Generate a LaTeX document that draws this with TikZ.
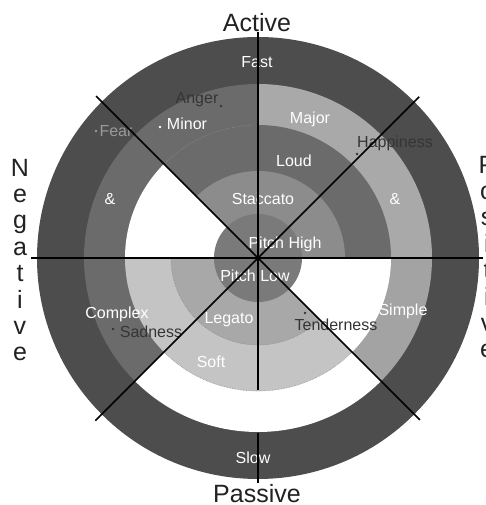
\documentclass[tikz,border=0pt]{standalone}
\usepackage{fontspec}
\setmainfont{Liberation Sans}
\usepackage{tikz}
\usetikzlibrary{positioning}
\definecolor{ringdark}{HTML}{4D4D4D}
\definecolor{ringmid}{HTML}{6B6B6B}
\definecolor{ringstac}{HTML}{8C8C8C}
\definecolor{ringcore}{HTML}{7A7A7A}
\definecolor{ringmajor}{HTML}{A9A9A9}
\definecolor{ringsimple}{HTML}{A3A3A3}
\definecolor{ringlegato}{HTML}{A8A8A8}
\definecolor{ringsoft}{HTML}{C4C4C4}
\definecolor{emodark}{HTML}{353535}
\definecolor{emofear}{HTML}{9A9A9A}
\definecolor{axisblack}{HTML}{222222}
\newcommand{\ringsector}[4]{\fill[#1] (0,0) -- (#2:#4) arc[start angle=#2, end angle=#3, radius=#4] -- cycle;}

\begin{document}
\begin{tikzpicture}[x=1pt, y=1pt,
    whitelabel/.style={text=white, font=\fontsize{16}{16}\selectfont, anchor=base, inner sep=0pt},
    emotion/.style={text=emodark, font=\fontsize{16}{16}\selectfont, anchor=base, inner sep=0pt},
    emodot/.style={circle, fill=emodark, inner sep=0pt, minimum size=2.6pt},
    axisword/.style={text=axisblack, font=\fontsize{25}{26.4}\selectfont, inner sep=0pt},
    axisline/.style={draw=black, line width=1.6pt},
    seam/.style={densely dotted, line width=0.6pt}
    ]
        \useasboundingbox (-258,-247) rectangle (228,258);
        \fill[white] (-258,-247) rectangle (228,258);

        %Rings
        \fill[ringdark] (0,0) circle[radius=221pt];
        \ringsector{ringmajor}{0}{90}{174pt}
        \ringsector{ringmid}{90}{180}{174pt}
        \ringsector{ringmid}{180}{225}{174pt}
        \ringsector{white}{225}{315}{174pt}
        \ringsector{ringsimple}{315}{360}{174pt}
        \ringsector{ringmid}{0}{135}{133pt}
        \ringsector{white}{135}{180}{133pt}
        \ringsector{ringsoft}{180}{315}{133pt}
        \ringsector{white}{315}{360}{133pt}
        \ringsector{ringstac}{0}{135}{87pt}
        \ringsector{ringlegato}{180}{315}{87pt}
        \fill[ringcore] (0,0) circle[radius=44pt];

        %Seams
        \draw[seam, draw=ringstac] (92:133pt) arc[start angle=92, end angle=134, radius=133pt];
        \draw[seam, draw=ringstac] (180:87pt) arc[start angle=180, end angle=315, radius=87pt];
        \draw[seam, draw=ringstac] (225:133pt) arc[start angle=225, end angle=315, radius=133pt];

        %Nodes
        \node[axisword, anchor=base] (active)  at (-1,226)   {Active};
        \node[axisword, anchor=base] (passive) at (-1,-244)  {Passive};
        \node[axisword, align=center] (negative) at (-238,-2) {N\\e\\g\\a\\t\\i\\v\\e};
        \node[axisword, align=center] (positive) at (229,1)  {P\\o\\s\\i\\t\\i\\v\\e};

        \node[whitelabel] (fast)      at (-1,190)   {Fast};
        \node[whitelabel] (minor)     at (-71,128)  {Minor};
        \node[whitelabel] (major)     at (52,134)   {Major};
        \node[whitelabel] (loud)      at (36,91)    {Loud};
        \node[whitelabel] (ampleft)   at (-148,53)  {\&};
        \node[whitelabel] (ampright)  at (137,53)   {\&};
        \node[whitelabel] (staccato)  at (5,53)     {Staccato};
        \node[whitelabel] (pitchhigh) at (27,9)     {Pitch High};
        \node[whitelabel] (pitchlow)  at (-3,-24)   {Pitch Low};
        \node[whitelabel] (complex)   at (-141,-61) {Complex};
        \node[whitelabel] (legato)    at (-29,-66)  {Legato};
        \node[whitelabel] (soft)      at (-47,-109) {Soft};
        \node[whitelabel] (simple)    at (145,-58)  {Simple};
        \node[whitelabel] (slow)      at (-5,-205)  {Slow};

        \node[emotion] (anger)      at (-61,154)  {Anger};
        \node[emotion, text=emofear] (fear) at (-142,121) {Fear};
        \node[emotion] (happiness)  at (137,110)  {Happiness};
        \node[emotion] (sadness)    at (-107,-79) {Sadness};
        \node[emotion] (tenderness) at (78,-72)   {Tenderness};

        \node[emodot] (angerdot)      at (-37,152)  {};
        \node[emodot, fill=white] (minordot) at (-98,131) {};
        \node[emodot, fill=emofear] (feardot) at (-162,127) {};
        \node[emodot] (happinessdot)  at (99,104)   {};
        \node[emodot] (sadnessdot)    at (-145,-71) {};
        \node[emodot] (tendernessdot) at (47,-55)   {};

        %Lines
        \coordinate (c)   at (0,0);
        \coordinate (n)   at (0,226);
        \coordinate (s1)  at (0,-132);
        \coordinate (s2)  at (0,-175);
        \coordinate (s)   at (0,-225);
        \coordinate (w)   at (-227,0);
        \coordinate (e)   at (225,0);
        \coordinate (nw)  at (135:229);
        \coordinate (ne)  at (45:228);
        \coordinate (sw)  at (225:230);
        \coordinate (se)  at (315:229);
        \draw[axisline] (n) -- (s1);
        \draw[axisline] (s2) -- (s);
        \draw[axisline] (w) -- (e);
        \draw[axisline] (nw) -- (se);
        \draw[axisline] (ne) -- (sw);
\end{tikzpicture}
\end{document}
